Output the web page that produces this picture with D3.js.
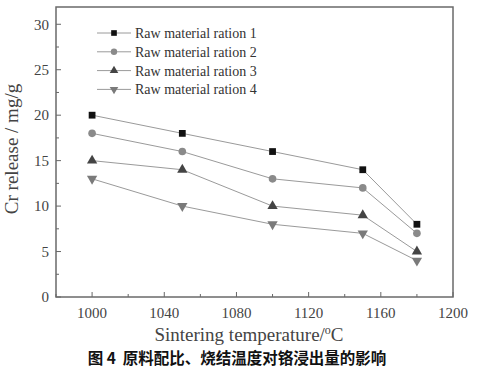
<!DOCTYPE html>
<html>
<head>
<meta charset="utf-8">
<script src="https://cdn.jsdelivr.net/npm/d3@7"></script>
<style>
  body { margin: 0; background: #fff; }
  svg { font-family: "Liberation Serif", "DejaVu Serif", serif; }
  .caption { font-family: "Noto Sans CJK SC", sans-serif; font-weight: bold; white-space: pre; }
</style>
</head>
<body>
<svg class="chart"></svg>
<script>
var temps = [1000, 1050, 1100, 1150, 1180];
var ration1 = [20, 18, 16, 14, 8];
var ration2 = [18, 16, 13, 12, 7];
var ration3 = [15, 14, 10, 9, 5];
var ration4 = [13, 10, 8, 7, 4];
var seriesNames = ["Raw material ration 1", "Raw material ration 2",
                   "Raw material ration 3", "Raw material ration 4"];
var xTicks = [1000, 1040, 1080, 1120, 1160, 1200];
var yTicks = [0, 5, 10, 15, 20, 25, 30];

var W = 482, H = 370;
var margin = {top: 7, right: 29, bottom: 73, left: 56},
    width = W - margin.left - margin.right,
    height = H - margin.top - margin.bottom;

var x = d3.scaleLinear().domain([980, 1200]).range([0, width]);
var y = d3.scaleLinear().domain([0, 31.9]).range([height, 0]);

var svg = d3.select(".chart").attr("width", W).attr("height", H);
var g = svg.append("g").attr("transform", "translate(" + margin.left + "," + margin.top + ")");

var series = [
  {name: seriesNames[0], values: ration1, sym: d3.symbolSquare, color: "#111", rot: 0},
  {name: seriesNames[1], values: ration2, sym: d3.symbolCircle, color: "#8a8a8a", rot: 0},
  {name: seriesNames[2], values: ration3, sym: d3.symbolTriangle, color: "#444", rot: 0},
  {name: seriesNames[3], values: ration4, sym: d3.symbolTriangle, color: "#7a7a7a", rot: 180}
];

// minor + major ticks pointing inward
var xMinor = d3.range(980, 1201, 20);
var yMinor = d3.range(0, 31, 2.5);

g.selectAll(".xminor").data(xMinor).enter().append("line")
    .attr("x1", d => x(d)).attr("x2", d => x(d))
    .attr("y1", height).attr("y2", d => height - (d % 40 === 0 ? 5 : 3))
    .attr("stroke", "#666").attr("stroke-width", 1);

g.selectAll(".yminor").data(yMinor).enter().append("line")
    .attr("y1", d => y(d)).attr("y2", d => y(d))
    .attr("x1", 0).attr("x2", d => (d % 5 === 0 ? 5 : 3))
    .attr("stroke", "#666").attr("stroke-width", 1);

// frame
g.append("rect")
    .attr("width", width).attr("height", height)
    .attr("fill", "none").attr("stroke", "#6a6a6a").attr("stroke-width", 1.5);

// tick labels
g.selectAll(".xl").data(xTicks).enter().append("text")
    .attr("x", d => x(d)).attr("y", height + 21)
    .attr("text-anchor", "middle").attr("font-size", 15).attr("fill", "#444")
    .text(d => d);

g.selectAll(".yl").data(yTicks).enter().append("text")
    .attr("x", -7).attr("y", d => y(d)).attr("dy", "0.35em")
    .attr("text-anchor", "end").attr("font-size", 15).attr("fill", "#444")
    .text(d => d);

// series
var line = d3.line().x((d, i) => x(temps[i])).y(d => y(d));

series.forEach(s => {
  g.append("path").datum(s.values)
      .attr("d", line).attr("fill", "none")
      .attr("stroke", "#9a9a9a").attr("stroke-width", 1);
  g.selectAll(null).data(s.values).enter().append("path")
      .attr("d", d3.symbol().type(s.sym).size(46))
      .attr("transform", (d, i) => "translate(" + x(temps[i]) + "," + y(d) + ") rotate(" + s.rot + ")")
      .attr("fill", s.color);
});

// legend
var leg = g.append("g").attr("transform", "translate(41,26)");
series.forEach((s, i) => {
  var row = leg.append("g").attr("transform", "translate(0," + (i * 18.8) + ")");
  row.append("line").attr("x1", 0).attr("x2", 34).attr("y1", 0).attr("y2", 0)
      .attr("stroke", "#9a9a9a").attr("stroke-width", 1);
  row.append("path").attr("d", d3.symbol().type(s.sym).size(32)())
      .attr("transform", "translate(17,0) rotate(" + s.rot + ")")
      .attr("fill", s.color);
  row.append("text").attr("x", 38).attr("dy", "0.35em")
      .attr("font-size", 14).attr("fill", "#333").text(s.name);
});

// axis titles
svg.append("text")
    .attr("x", 249).attr("y", 341)
    .attr("text-anchor", "middle").attr("font-size", 19).attr("fill", "#444")
    .html("Sintering temperature/<tspan dy='-7' font-size='12'>o</tspan><tspan dy='7'>C</tspan>");

svg.append("text")
    .attr("transform", "translate(18," + (margin.top + height / 2 - 3) + ") rotate(-90)")
    .attr("text-anchor", "middle").attr("font-size", 19).attr("fill", "#444")
    .text("Cr release / mg/g");

// caption
svg.append("text").attr("class", "caption")
    .attr("x", 237).attr("y", 364)
    .attr("text-anchor", "middle").attr("font-size", 15.5).attr("fill", "#111")
    .text("图 4  原料配比、烧结温度对铬浸出量的影响");
</script>
</body>
</html>
